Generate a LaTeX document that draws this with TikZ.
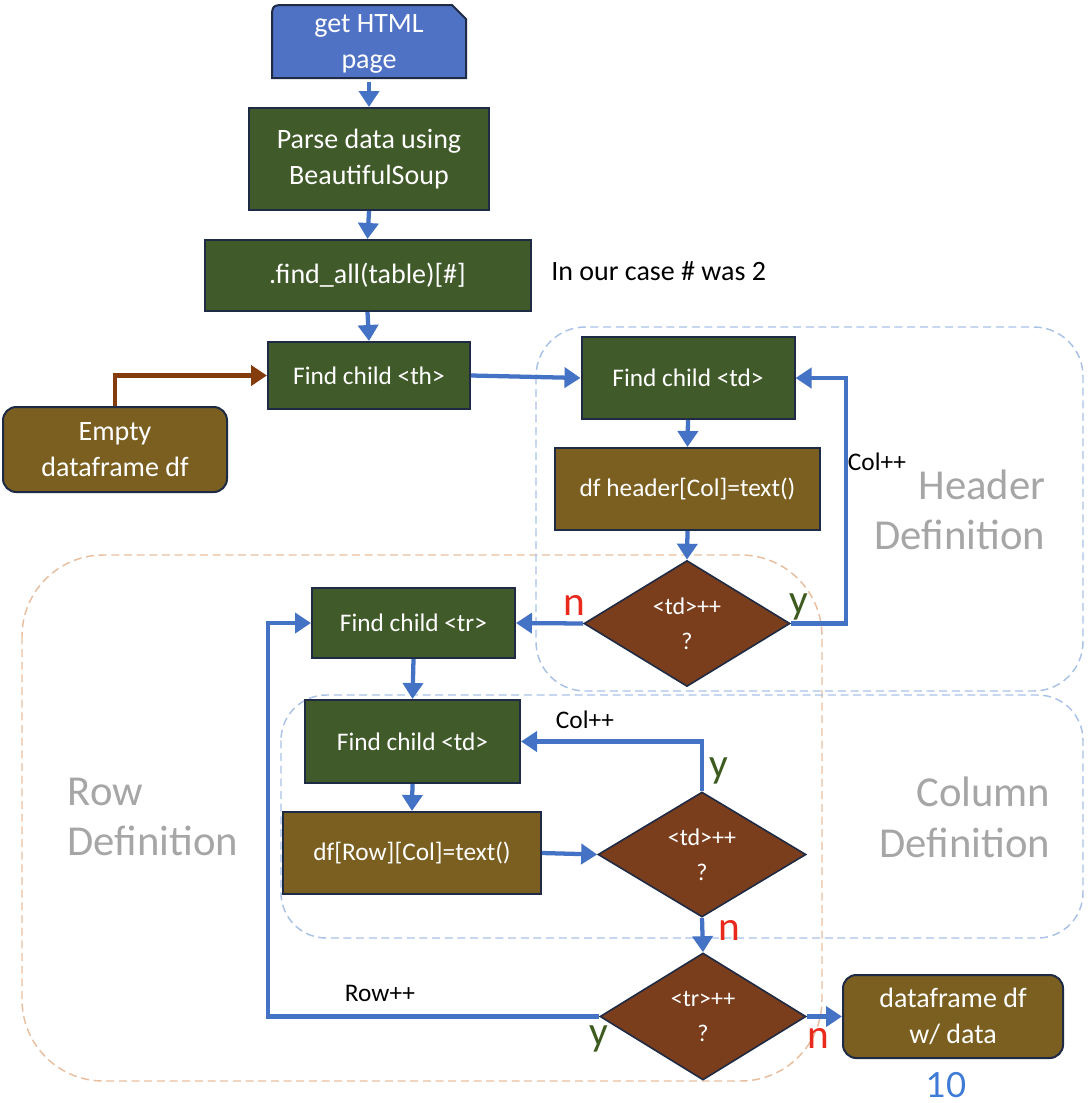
\documentclass[tikz,border=0pt]{standalone}
\usepackage{fontspec}
\setmainfont{Carlito}
\newfontfamily\numfont{Lato}
\usetikzlibrary{arrows.meta,shapes.geometric}
\definecolor{navyc}{HTML}{1F2A44}
\definecolor{greenc}{HTML}{405A2A}
\definecolor{olivec}{HTML}{7A5F21}
\definecolor{brownc}{HTML}{7A3E1C}
\definecolor{bluec}{HTML}{4472C4}
\definecolor{htmlc}{HTML}{4F72C4}
\definecolor{arrbrown}{HTML}{843C0C}
\definecolor{redc}{HTML}{E8291C}
\definecolor{ygreen}{HTML}{3D5A1F}
\definecolor{grayc}{HTML}{A6A6A6}
\definecolor{dblue}{HTML}{A9C2E6}
\definecolor{dorange}{HTML}{E8BE9F}
\definecolor{pnum}{HTML}{3D7BD6}
\newcommand{\fA}{\fontsize{21}{27}\selectfont}
\newcommand{\fB}{\fontsize{19}{25}\selectfont}
\newcommand{\fD}{\fontsize{18}{26}\selectfont}
\newcommand{\fL}{\fontsize{32}{38}\selectfont}
\newcommand{\fY}{\fontsize{31}{31}\selectfont}
\begin{document}
\begin{tikzpicture}[x=0.75pt,y=-0.75pt,
  sz/.style 2 args={minimum width=#1*0.75pt,minimum height=#2*0.75pt},
  box/.style={draw=navyc,line width=1.5pt,text=white,align=center,inner sep=0pt,font=\fB},
  gbox/.style={box,fill=greenc},
  obox/.style={box,fill=olivec},
  dia/.style={diamond,draw=navyc,line width=1.2pt,fill=brownc,text=white,align=center,inner sep=0pt,font=\fD},
  arr/.style={draw=bluec,line width=3.2pt,-{Triangle[length=12pt,width=15pt]}},
  bdash/.style={draw=dblue,line width=1.1pt,dash pattern=on 6pt off 3.5pt},
  odash/.style={draw=dorange,line width=1.1pt,dash pattern=on 6pt off 3.5pt},
  region/.style={text=grayc,font=\fL},
  yl/.style={text=ygreen,font=\fY,inner sep=0pt},
  nl/.style={text=redc,font=\fY,inner sep=0pt},
  note/.style={text=black,font=\fB,inner sep=0pt}]
\useasboundingbox (0,0) rectangle (1089,1103);

% dashed regions
\draw[odash,rounded corners=61pt] (22,555) rectangle (822,1081);
\draw[bdash,rounded corners=37pt] (536,327) rectangle (1083,691);
\draw[bdash,rounded corners=34pt] (281,695) rectangle (1083,938);

\node[region,anchor=east,align=right] (hdef) at (1050,510) {Header\\Definition};
\node[region,anchor=east,align=right] (cdef) at (1055,817) {Column\\Definition};
\node[region,anchor=west,align=left] (rdef) at (63,817) {Row\\Definition};

% get HTML page shape
\draw[draw=navyc,fill=htmlc,line width=1.5pt] (272,78) -- (272,20) .. controls (272,5) .. (287,5) -- (452,5) -- (466,19) -- (466,78) -- cycle;
\node[box,draw=none,fill=none,sz={194}{73},font=\fA] (html) at (369,44) {get HTML\\page};

\node[gbox,sz={240}{102},font=\fA] (parse) at (369,159) {Parse data using\\BeautifulSoup};
\node[gbox,sz={326}{71},font=\fA] (findall) at (367.5,275.5) {.find\_all(table)[\#]};
\node[note,font=\fA,anchor=west] (case) at (551,271) {In our case \# was 2};
\node[gbox,sz={202}{67}] (th) at (369,375.5) {Find child <th>};
\node[obox,rounded corners=10pt,sz={224}{85},font=\fA] (empty) at (115,449.5) {Empty\\dataframe df};
\node[gbox,sz={213}{82}] (tdh) at (688,378) {Find child <td>};
\node[obox,sz={265}{82}] (hdr) at (687.5,489) {df header[Col]=text()};
\node[dia,sz={206}{126}] (dh) at (687,623.5) {<td>++\\?};
\node[gbox,sz={203}{70}] (tr) at (413.5,623) {Find child <tr>};
\node[gbox,sz={215}{83}] (tdc) at (412.5,741.5) {Find child <td>};
\node[obox,sz={258}{82}] (row) at (412,853) {df[Row][Col]=text()};
\node[dia,sz={208}{125}] (dc) at (702,854.5) {<td>++\\?};
\node[dia,sz={206}{127}] (trd) at (703,1016.5) {<tr>++\\?};
\node[obox,rounded corners=10pt,sz={220}{83},font=\fA] (out) at (953,1016.5) {dataframe df\\w/ data};

\coordinate (hloop) at (846,500);
\coordinate (rloop) at (268,800);

% connectors
\draw[arr] (html.south) -- (parse.north);
\draw[arr] (parse.south) -- (findall.north);
\draw[arr] (findall.south) -- (th.north);
\draw[draw=arrbrown,line width=3.2pt,-{Triangle[length=12pt,width=15pt]}] (empty.north) |- (th.west);
\draw[arr] (th.east) -- (tdh.west);
\draw[arr] (tdh.south) -- (hdr.north);
\draw[arr] (hdr.south) -- (dh.north);
\draw[arr] (dh.east) -| (hloop) |- (tdh.east);
\draw[arr] (dh.west) -- (tr.east);
\draw[arr] (tr.south) -- (tdc.north);
\draw[arr] (tdc.south) -- (row.north);
\draw[arr] (row.east) -- (dc.west);
\draw[arr] (dc.north) |- (tdc.east);
\draw[arr] (dc.south) -- (trd.north);
\draw[arr] (trd.west) -| (rloop) |- (tr.west);
\draw[arr] (trd.east) -- (out.west);

% labels
\node[note] (col1) at (877,462) {Col++};
\node[note] (col2) at (585,720) {Col++};
\node[note] (rowpp) at (380,993) {Row++};
\node[nl] (n1) at (574,605) {n};
\node[yl] (y1) at (799,607) {y};
\node[yl] (y2) at (719,771) {y};
\node[nl] (n2) at (729,930) {n};
\node[yl] (y3) at (599,1039) {y};
\node[nl] (n3) at (818,1038) {n};
\node[text=pnum,font=\fontsize{26}{26}\selectfont\numfont,inner sep=0pt] (pg) at (946,1085) {10};
\end{tikzpicture}
\end{document}
